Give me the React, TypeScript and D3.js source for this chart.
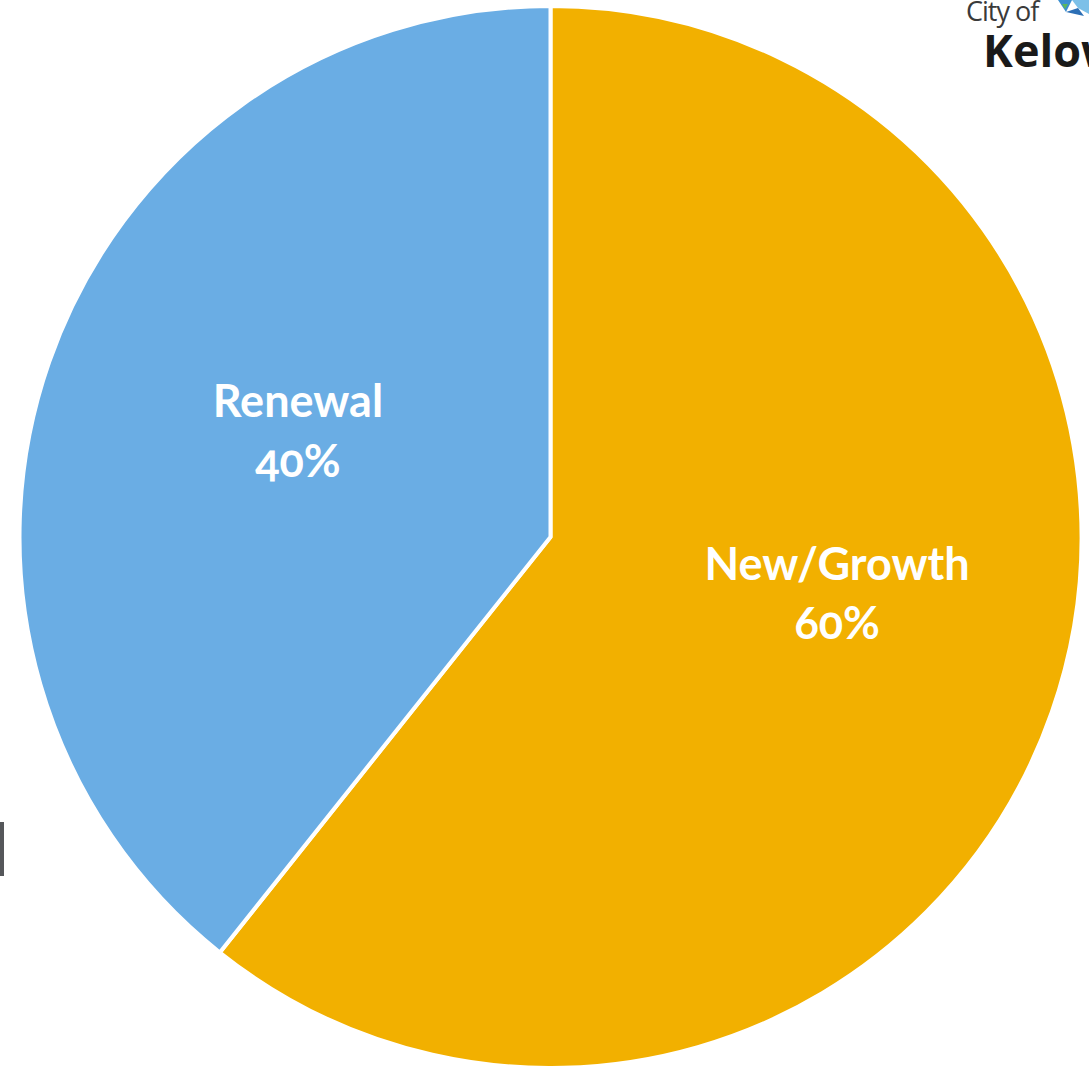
import React from "react";
import * as d3 from "d3";

const categories = ["New/Growth", "Renewal"];
const values = [60.7, 39.3];
const labels = ["60%", "40%"];
const colors = ["#F2B000", "#6AADE4"];

const W = 1089;
const H = 1066;

export default function App() {
  const cx = 550.5;
  const cy = 537;
  const R = 531;
  const pie = d3.pie<number>().sort(null).value((d) => d);
  const arcs = pie(values);
  const arc = d3.arc<d3.PieArcDatum<number>>().innerRadius(0).outerRadius(R);
  const labelArc = d3.arc<d3.PieArcDatum<number>>().innerRadius(0).outerRadius(R);
  const labelShift = [
    [36, -36],
    [-2, -23],
  ];
  return (
    <div style={{ position: "absolute", left: 0, top: 0 }}>
      <svg width={W} height={H} style={{ display: "block" }}>
        <rect width={W} height={H} fill="#fff" />
        <g transform={`translate(${cx},${cy})`}>
          {arcs.map((a, i) => (
            <path key={i} d={arc(a) || ""} fill={colors[i]} stroke="#fff" strokeWidth={4} strokeLinejoin="round" />
          ))}
          {arcs.map((a, i) => {
            const [x, y] = labelArc.centroid(a);
            const px = x + labelShift[i][0];
            const py = y + labelShift[i][1];
            return (
              <text
                key={"t" + i}
                x={px}
                y={py}
                textAnchor="middle"
                fill="#fff"
                fontFamily="Lato, 'Open Sans', sans-serif"
                fontWeight="bold"
                fontSize={45}
                style={{ fontVariantNumeric: "oldstyle-nums" }}
              >
                <tspan x={px} dy="-0.2em">{categories[i]}</tspan>
                <tspan x={px} dy="1.33em">{labels[i]}</tspan>
              </text>
            );
          })}
        </g>
        <rect x={0} y={822} width={4} height={54} fill="#55575a" />
        <text x={966} y={21} fontFamily="'Open Sans', sans-serif" fontSize={27} fill="#3a3a3a" letterSpacing={-1}>City of</text>
        <text x={983} y={67} fontFamily="'Open Sans', sans-serif" fontWeight="bold" fontSize={45} fill="#1a1a1a">Kelowna</text>
        <polygon points="1058,0 1072,0 1066,12" fill="#3b8fd0" />
        <polygon points="1072,0 1089,0 1089,14 1078,8" fill="#7cc0e8" />
        <polygon points="1066,12 1078,8 1084,16" fill="#2c6fb5" />
        <polygon points="1062,4 1068,4 1065,9" fill="#5cb85c" />
      </svg>
    </div>
  );
}
